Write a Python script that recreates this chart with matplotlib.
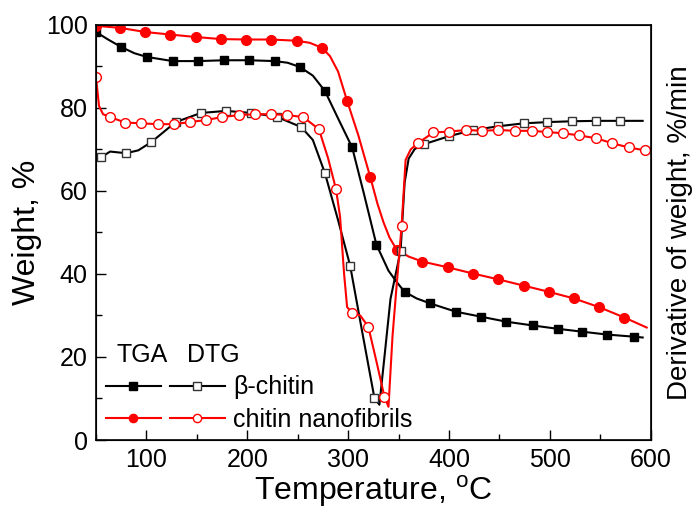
import numpy as np
import matplotlib
matplotlib.use("Agg")
import matplotlib.pyplot as plt

plt.rcParams['font.family'] = ['Liberation Sans', 'DejaVu Sans']
plt.rcParams['mathtext.fontset'] = 'custom'
plt.rcParams['mathtext.rm'] = 'Liberation Sans'

# beta-chitin TGA (line points, marker indices)
beta_tga_t = [50, 62, 75, 88, 100.5, 126, 151, 177, 202, 227, 240, 252, 265, 277, 290, 304,
              316, 328, 340, 348, 356, 368, 381.5, 407, 432, 457, 483, 507.6, 532, 557, 583, 592]
beta_tga_w = [98.3, 96.5, 94.7, 93.2, 92.3, 91.3, 91.3, 91.5, 91.5, 91.3, 90.9, 89.9, 87.8, 84.1, 77.5, 70.5,
              59.0, 47.1, 40.8, 38.1, 35.7, 34.1, 32.9, 30.9, 29.7, 28.5, 27.6, 26.8, 26.1, 25.4, 24.9, 24.7]
beta_tga_mk = [0, 2, 4, 5, 6, 7, 8, 9, 11, 13, 15, 17, 20, 22, 23, 24, 25, 26, 27, 28, 29, 30]

# chitin nanofibrils TGA
nano_tga_t = [50, 74, 99, 123.5, 149, 174, 199, 224, 249, 262, 274, 282, 290, 299, 310, 322,
              329, 335, 341, 348, 360, 373.5, 399, 424, 449, 474, 499, 524, 549, 574, 596]
nano_tga_w = [99.8, 99.3, 98.3, 97.7, 97.1, 96.6, 96.5, 96.5, 96.2, 95.7, 94.5, 92.5, 88.8, 81.7, 73.5, 63.3,
              57.0, 52.5, 48.8, 45.9, 44.2, 43.0, 41.6, 40.1, 38.7, 37.2, 35.7, 34.1, 32.0, 29.5, 27.1]
nano_tga_mk = [0, 1, 2, 3, 4, 5, 6, 7, 8, 10, 13, 15, 19, 21, 22, 23, 24, 25, 26, 27, 28, 29]

# beta-chitin DTG
beta_dtg_t = [50, 55, 64, 80, 92, 105, 129, 154, 179, 204, 229, 253.5, 265, 277, 290, 302,
              314, 326, 331, 336, 342, 352, 356, 360, 366, 375.5, 400, 424, 449, 474, 497.6, 522, 546, 570, 592]
beta_dtg_w = [67.6, 68.1, 69.5, 69.1, 69.8, 71.8, 76.6, 78.8, 79.3, 78.8, 77.9, 75.4, 72.3, 64.3, 53.0, 42.0,
              26.0, 10.2, 8.5, 20.0, 34.0, 45.6, 62.0, 67.8, 70.1, 71.3, 73.2, 74.7, 75.6, 76.3, 76.6, 76.8, 76.9, 76.9, 76.9]
beta_dtg_mk = [1, 3, 5, 6, 7, 8, 9, 10, 11, 13, 15, 17, 21, 25, 26, 27, 28, 29, 30, 31, 32, 33]

# chitin nanofibrils DTG
nano_dtg_t = [50, 53, 57, 64, 79, 95, 111.5, 127, 143, 159, 175, 192, 208, 224, 239.6, 255.5, 271, 280,
              288, 292, 296, 299, 304, 312, 320, 328, 336, 340, 344, 348, 353, 357, 362, 369,
              384.5, 400, 417, 433, 449, 465, 482, 497.6, 513.5, 529, 546, 562, 578, 594]
nano_dtg_w = [87.5, 80.5, 78.5, 77.8, 76.5, 76.3, 76.1, 76.1, 76.6, 77.1, 77.8, 78.3, 78.5, 78.5, 78.3, 77.8, 74.9, 68.0,
              60.4, 53.8, 40.0, 32.0, 30.7, 30.0, 27.3, 19.0, 10.4, 8.0, 25.0, 37.0, 51.5, 67.5, 70.0, 71.5,
              74.1, 74.3, 74.7, 74.5, 74.7, 74.5, 74.5, 74.2, 73.9, 73.4, 72.7, 71.5, 70.5, 69.8]
nano_dtg_mk = [0, 3, 4, 5, 6, 7, 8, 9, 10, 11, 12, 13, 14, 15, 16, 18, 22, 24, 26, 30, 33,
               34, 35, 36, 37, 38, 39, 40, 41, 42, 43, 44, 45, 46, 47]

fig = plt.figure(figsize=(6.97, 5.13), dpi=100)
ax = fig.add_axes([0.1377, 0.1423, 0.7959, 0.8090])

l1, = ax.plot(beta_tga_t, beta_tga_w, '-', color='black', lw=1.5, marker='s', ms=6,
              mfc='black', mec='black', markevery=beta_tga_mk)
l2, = ax.plot(nano_tga_t, nano_tga_w, '-', color='red', lw=1.5, marker='o', ms=7,
              mfc='red', mec='red', markevery=nano_tga_mk)
l3, = ax.plot(beta_dtg_t, beta_dtg_w, '-', color='black', lw=1.5, marker='s', ms=6,
              mfc='white', mec='#333333', mew=1.0, markevery=beta_dtg_mk)
l4, = ax.plot(nano_dtg_t, nano_dtg_w, '-', color='red', lw=1.5, marker='o', ms=7,
              mfc='white', mec='red', mew=1.0, markevery=nano_dtg_mk)

ax.set_xlim(50, 600)
ax.set_ylim(0, 100)
ax.set_xticks([100, 200, 300, 400, 500, 600])
ax.set_xticks(np.arange(50, 601, 50), minor=True)
ax.set_yticks([0, 20, 40, 60, 80, 100])
ax.set_yticks(np.arange(0, 101, 10), minor=True)
ax.tick_params(which='both', direction='in', top=False, right=False, labelsize=18, pad=6)
ax.tick_params(which='major', length=7, width=1)
ax.tick_params(which='minor', length=4, width=1)
for s in ax.spines.values():
    s.set_linewidth(1.2)

ax.set_xlabel("Temperature, $^\\mathrm{o}$C", fontsize=23, labelpad=1)
ax.set_ylabel("Weight, %", fontsize=23, labelpad=3)

ax2 = ax.twinx()
ax2.set_yticks([])
ax2.set_ylabel("Derivative of weight, %/min", fontsize=20, labelpad=12)

leg = ax.legend([l1, l2, l3, l4], ['', '', '\u03b2-chitin', 'chitin nanofibrils'], ncol=2,
                loc='lower left', bbox_to_anchor=(0.0, -0.005), frameon=False, fontsize=18,
                handlelength=2.2, handletextpad=0.35, columnspacing=0.0, labelspacing=0.35,
                borderaxespad=0.0, markerscale=0.85)
ax.text(0.084, 0.205, "TGA", transform=ax.transAxes, fontsize=18, ha='center', va='center')
ax.text(0.211, 0.205, "DTG", transform=ax.transAxes, fontsize=18, ha='center', va='center')

fig.savefig("out.png", dpi=100)
plt.close()
